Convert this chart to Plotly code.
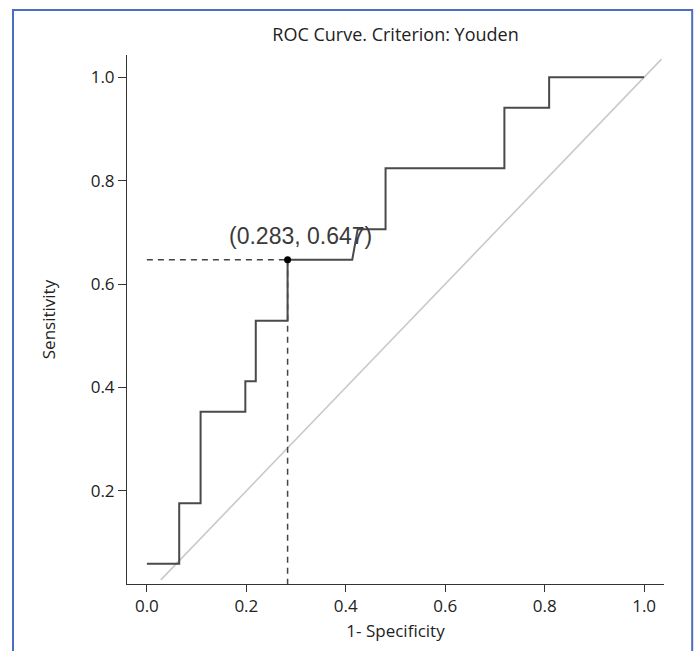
import plotly.graph_objects as go

# ROC step curve (1 - specificity, sensitivity)
fpr = [0.0, 0.065, 0.065, 0.108, 0.108, 0.198, 0.198, 0.219, 0.219, 0.283, 0.283,
       0.413, 0.424, 0.480, 0.480, 0.719, 0.719, 0.809, 0.809, 1.0]
tpr = [0.059, 0.059, 0.176, 0.176, 0.353, 0.353, 0.412, 0.412, 0.529, 0.529, 0.647,
       0.647, 0.706, 0.706, 0.824, 0.824, 0.941, 0.941, 1.0, 1.0]

# chance diagonal
diag_x = [0.028, 1.035]
diag_y = [0.028, 1.035]

# Youden optimal point
cut_x = 0.283
cut_y = 0.647
cut_label = "(0.283, 0.647)"

title_text = "ROC Curve. Criterion: Youden"
x_title = "1- Specificity"
y_title = "Sensitivity"
x_ticks = [0.0, 0.2, 0.4, 0.6, 0.8, 1.0]
y_ticks = [0.2, 0.4, 0.6, 0.8, 1.0]

x_range = [-0.04, 1.04]
y_range = [0.02, 1.043]

fig = go.Figure()

fig.add_trace(go.Scatter(x=diag_x, y=diag_y, mode="lines",
                         line=dict(color="#c9c9c9", width=1.6), hoverinfo="skip",
                         showlegend=False))

# dashed guide lines to the cut point
fig.add_trace(go.Scatter(x=[x_range[0] + 0.04, cut_x], y=[cut_y, cut_y], mode="lines",
                         line=dict(color="#444444", width=1.5, dash="6px,5px"),
                         showlegend=False))
fig.add_trace(go.Scatter(x=[cut_x, cut_x], y=[cut_y, y_range[0]], mode="lines",
                         line=dict(color="#444444", width=1.5, dash="6px,5px"),
                         showlegend=False))

fig.add_trace(go.Scatter(x=fpr, y=tpr, mode="lines",
                         line=dict(color="#4a4a4a", width=2), showlegend=False))

fig.add_trace(go.Scatter(x=[cut_x], y=[cut_y], mode="markers",
                         marker=dict(color="#000000", size=7), showlegend=False))

fig.add_annotation(x=cut_x, y=cut_y, xref="x", yref="y", text=cut_label,
                   showarrow=False, xanchor="center", yanchor="bottom",
                   xshift=13, yshift=9,
                   font=dict(family="Liberation Sans, Arial", size=23, color="#3a3a3a"))

# outer blue frame
fig.add_shape(type="rect", xref="paper", yref="paper",
              x0=-0.2123, x1=1.0525, y0=-0.14, y1=1.085,
              line=dict(color="#4a6fc0", width=2), fillcolor="rgba(0,0,0,0)",
              layer="above")

axis_font = dict(family="Open Sans, Noto Sans", size=17, color="#222222")

fig.update_layout(
    width=696, height=651,
    margin=dict(l=127, r=32, t=55, b=67),
    paper_bgcolor="white", plot_bgcolor="white",
    title=dict(text=title_text, x=0.5, xref="paper", xanchor="center",
               y=1 - 35 / 651, yref="container", yanchor="middle",
               font=dict(family="Open Sans, Noto Sans", size=18, color="#222222")),
    xaxis=dict(range=x_range, tickvals=x_ticks, tickformat=".1f",
               showgrid=False, zeroline=False, showline=True,
               linecolor="#333333", linewidth=1, ticks="outside", ticklen=7,
               tickcolor="#333333", tickfont=axis_font,
               title=dict(text=x_title, font=axis_font, standoff=8)),
    yaxis=dict(range=y_range, tickvals=y_ticks, tickformat=".1f",
               showgrid=False, zeroline=False, showline=True,
               linecolor="#333333", linewidth=1, ticks="outside", ticklen=8,
               tickcolor="#333333", tickfont=axis_font,
               title=dict(text=y_title, font=axis_font, standoff=30)),
)

fig.write_html("out.html")
